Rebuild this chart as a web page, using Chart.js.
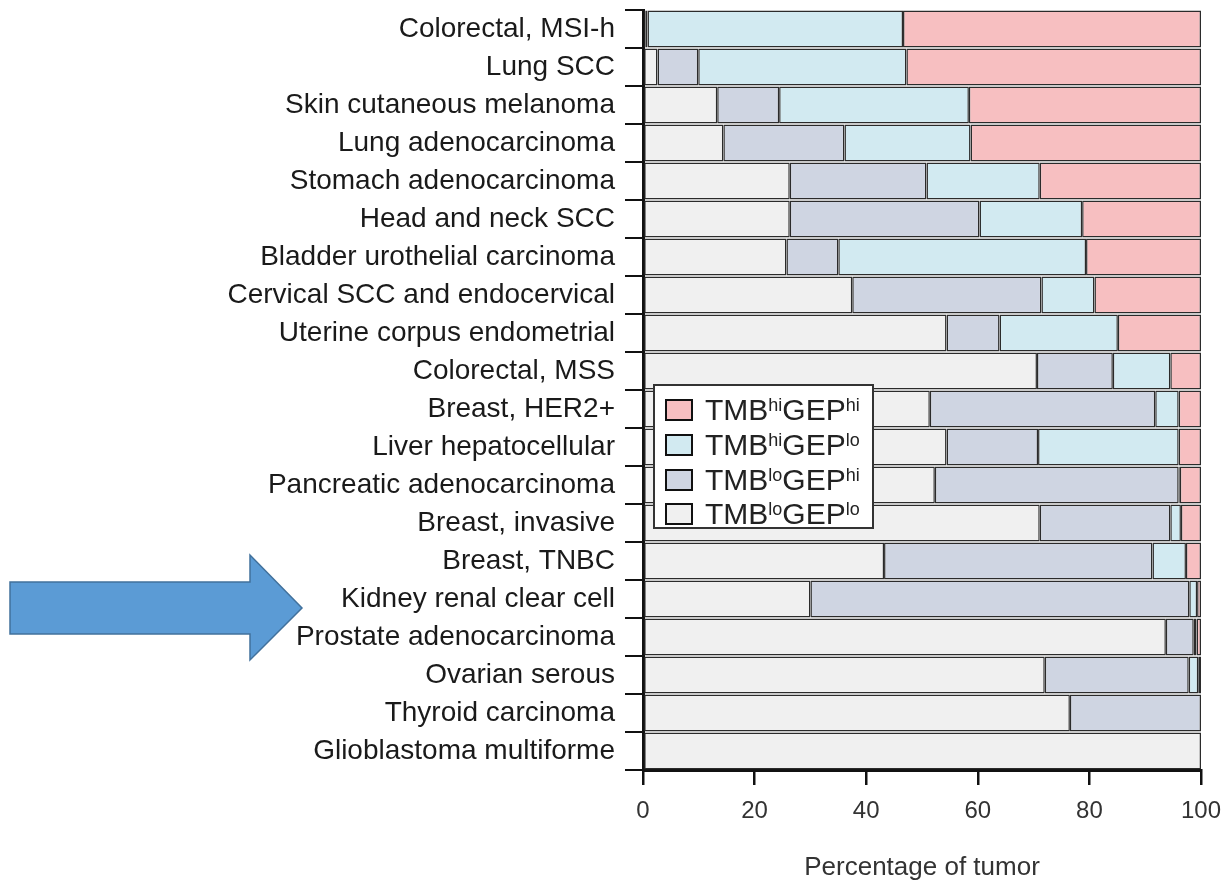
<!DOCTYPE html>
<html lang="en">
<head>
  <meta charset="UTF-8" />
  <title>Tumor types by TMB / GEP class</title>
  <script src="https://cdn.jsdelivr.net/npm/chart.js"></script>
  <style>
    * { margin: 0; padding: 0; box-sizing: border-box; }
    body { background: #fff; font-family: 'Liberation Sans', Arial, sans-serif; }
    .wrap { position: relative; width: 1231px; height: 885px; }
    /* Legend box sits over the lower-left part of the bars */
    .legend-box {
      position: absolute;
      left: 653px;
      top: 384px;
      width: 221px;
      height: 145px;
      background: #fff;
      border: 2.5px solid #333;
      padding: 7px 0 0 10px;
    }
    .legend-item {
      display: flex;
      align-items: center;
      height: 34.7px;
      font-size: 30px;
      color: #222;
      white-space: nowrap;
    }
    .legend-item .swatch {
      width: 28px;
      height: 22px;
      border: 2.5px solid #111;
      margin-right: 12px;
      flex: none;
    }
    .legend-item .lbl { line-height: 1; }
    .legend-item sup {
      font-size: 18px;
      line-height: 1;
      vertical-align: 9px;
    }
  </style>
</head>
<body>
  <div class="wrap">
    <canvas id="tumorChart" width="1231" height="885"></canvas>
    <div class="legend-box" id="legend"></div>
  </div>
  <script>
    const categories = [
      'Colorectal, MSI-h', 'Lung SCC', 'Skin cutaneous melanoma', 'Lung adenocarcinoma',
      'Stomach adenocarcinoma', 'Head and neck SCC', 'Bladder urothelial carcinoma',
      'Cervical SCC and endocervical', 'Uterine corpus endometrial', 'Colorectal, MSS',
      'Breast, HER2+', 'Liver hepatocellular', 'Pancreatic adenocarcinoma', 'Breast, invasive',
      'Breast, TNBC', 'Kidney renal clear cell', 'Prostate adenocarcinoma', 'Ovarian serous',
      'Thyroid carcinoma', 'Glioblastoma multiforme'
    ];

    // percentage of tumors in each class, same order as categories
    const tmbLoGepLo = [0.4, 2.6, 13.3, 14.4, 26.3, 26.3, 25.7, 37.5, 54.4, 70.6,
                        51.4, 54.4, 52.3, 71.1, 43.2, 30.0, 93.7, 72.0, 76.5, 100];
    const tmbLoGepHi = [0.4, 7.3, 11.1, 21.7, 24.5, 34.0, 9.3, 33.9, 9.5, 13.6,
                        40.4, 16.4, 43.7, 23.4, 48.1, 67.9, 5.0, 25.8, 23.5, 0];
    const tmbHiGepLo = [45.8, 37.3, 34.0, 22.6, 20.3, 18.4, 44.4, 9.5, 21.2, 10.3,
                        4.2, 25.2, 0.2, 1.9, 6.0, 1.4, 0.5, 1.7, 0, 0];
    const tmbHiGepHi = [53.4, 52.8, 41.6, 41.3, 28.9, 21.3, 20.6, 19.1, 14.9, 5.5,
                        4.0, 4.0, 3.8, 3.6, 2.7, 0.7, 0.8, 0.5, 0, 0];

    const xTicks = [0, 20, 40, 60, 80, 100];

    // stacking order left to right, with TMB / GEP levels for the legend
    const seriesValues = [tmbLoGepLo, tmbLoGepHi, tmbHiGepLo, tmbHiGepHi];
    const seriesTmb = ['lo', 'lo', 'hi', 'hi'];
    const seriesGep = ['lo', 'hi', 'lo', 'hi'];
    const seriesColors = ['#f0f0f0', '#cfd5e2', '#d2eaf1', '#f7bfc1'];

    const highlightRow = 'Kidney renal clear cell';

    const datasets = seriesValues.map((vals, i) => ({
      label: 'TMB' + seriesTmb[i] + 'GEP' + seriesGep[i],
      data: vals,
      backgroundColor: seriesColors[i],
      borderColor: '#2b2b2b',
      borderWidth: 1.5,
      borderSkipped: false,
      barPercentage: 0.98,
      categoryPercentage: 1.0
    }));

    // big blue arrow pointing at one row
    const arrowPlugin = {
      id: 'rowArrow',
      afterDraw(chart) {
        const ctx = chart.ctx;
        const y = chart.scales.y;
        const cy = y.getPixelForValue(categories.indexOf(highlightRow)) + 9;
        const tip = 302, headX = 250, tail = 10;
        ctx.save();
        ctx.beginPath();
        ctx.moveTo(tail, cy - 26);
        ctx.lineTo(headX, cy - 26);
        ctx.lineTo(headX, cy - 53);
        ctx.lineTo(tip, cy);
        ctx.lineTo(headX, cy + 52);
        ctx.lineTo(headX, cy + 26);
        ctx.lineTo(tail, cy + 26);
        ctx.closePath();
        ctx.fillStyle = '#5b9bd5';
        ctx.fill();
        ctx.lineWidth = 1.5;
        ctx.strokeStyle = '#41719c';
        ctx.stroke();
        ctx.restore();
      }
    };

    const chart = new Chart(document.getElementById('tumorChart'), {
      type: 'bar',
      data: { labels: categories, datasets: datasets },
      options: {
        indexAxis: 'y',
        responsive: false,
        animation: false,
        layout: { padding: { top: 10, right: 30, left: 0, bottom: 0 } },
        plugins: {
          legend: { display: false },
          tooltip: { enabled: false }
        },
        scales: {
          x: {
            type: 'linear',
            stacked: true,
            min: 0,
            max: 100,
            afterFit(scale) {
              scale.height = 115;
              scale.paddingLeft = 0;
              scale.paddingRight = 0;
            },
            afterBuildTicks(scale) { scale.ticks = xTicks.map(v => ({ value: v })); },
            border: { display: true, color: '#111', width: 3 },
            grid: { drawOnChartArea: false, drawTicks: true, tickLength: 15, color: '#111', lineWidth: 2.5 },
            ticks: {
              padding: 12,
              color: '#333',
              font: { family: "'Liberation Sans', Arial, sans-serif", size: 24 }
            },
            title: {
              display: true,
              text: 'Percentage of tumor',
              color: '#333',
              padding: { top: 0, bottom: 2 },
              font: { family: "'Liberation Sans', Arial, sans-serif", size: 26 }
            }
          },
          y: {
            stacked: true,
            afterFit(scale) {
              scale.width = 643;
              // labels sit inside their rows, no overhang needed above/below
              scale.paddingTop = 0;
              scale.paddingBottom = 0;
            },
            border: { display: true, color: '#111', width: 3 },
            grid: { offset: true, drawOnChartArea: false, drawTicks: true, tickLength: 18, color: '#111', lineWidth: 2 },
            ticks: {
              padding: 10,
              color: '#1a1a1a',
              autoSkip: false,
              font: { family: "'Liberation Sans', Arial, sans-serif", size: 28 }
            }
          }
        }
      },
      plugins: [arrowPlugin, {
        id: 'whiteBg',
        beforeDraw(c) {
          c.ctx.save();
          c.ctx.fillStyle = '#fff';
          c.ctx.fillRect(0, 0, c.width, c.height);
          c.ctx.restore();
        }
      }]
    });

    // legend with superscript levels, top row is the last stacked series
    const legend = document.getElementById('legend');
    chart.data.datasets.slice().reverse().forEach((ds, k) => {
      const i = seriesValues.length - 1 - k;
      const item = document.createElement('div');
      item.className = 'legend-item';
      item.innerHTML = '<span class="swatch" style="background:' + ds.backgroundColor + '"></span>' +
        '<span class="lbl">TMB<sup>' + seriesTmb[i] + '</sup>GEP<sup>' + seriesGep[i] + '</sup></span>';
      legend.appendChild(item);
    });
  </script>
</body>
</html>
